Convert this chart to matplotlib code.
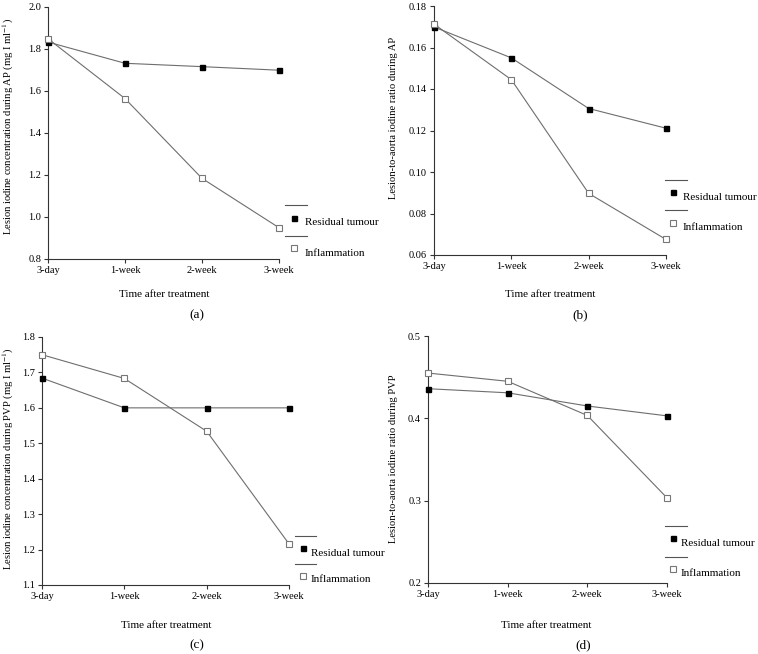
import matplotlib
matplotlib.use('Agg')
import matplotlib.pyplot as plt
from matplotlib.lines import Line2D

plt.rcParams['font.family'] = ['Liberation Serif', 'DejaVu Serif']
plt.rcParams['mathtext.fontset'] = 'stix'

# dados
tempos = ['3-day', '1-week', '2-week', '3-week']

ap_conc_tumor = [1.833, 1.732, 1.716, 1.699]
ap_conc_inflam = [1.849, 1.564, 1.184, 0.949]

ap_ratio_tumor = [0.1699, 0.1550, 0.1306, 0.1211]
ap_ratio_inflam = [0.1713, 0.1445, 0.0897, 0.0675]

pvp_conc_tumor = [1.684, 1.600, 1.600, 1.600]
pvp_conc_inflam = [1.750, 1.683, 1.534, 1.216]

pvp_ratio_tumor = [0.436, 0.431, 0.415, 0.403]
pvp_ratio_inflam = [0.455, 0.445, 0.4035, 0.3034]

W, H = 758, 654
fig = plt.figure(figsize=(W / 100, H / 100), dpi=100)


def px(x, y):
    return x / W, 1 - y / H


def eixo(l, r, t, b):
    return fig.add_axes([l / W, 1 - b / H, (r - l) / W, (b - t) / H])


# limites em pixels, series, ylim, yticks, formato, ylabel e posicoes dos textos/legenda
paineis = [
    ((48, 279, 7, 259), ap_conc_tumor, ap_conc_inflam, (0.8, 2.0),
     [0.8, 1.0, 1.2, 1.4, 1.6, 1.8, 2.0], '{:.1f}',
     r'Lesion iodine concentration during AP (mg I ml$^{-1}$)', (8, 127),
     (164, 295), '(a)', (197, 315),
     (285, 307, 205, 236, 294, 218, 248, 305, 223, 253)),
    ((434, 666, 6, 255), ap_ratio_tumor, ap_ratio_inflam, (0.06, 0.18),
     [0.06, 0.08, 0.10, 0.12, 0.14, 0.16, 0.18], '{:.2f}',
     'Lesion-to-aorta iodine ratio during AP', (393, 118),
     (550, 295), '(b)', (580, 315),
     (665, 687, 180, 210, 673, 192, 223, 683, 198, 228)),
    ((42, 289, 337, 585), pvp_conc_tumor, pvp_conc_inflam, (1.1, 1.8),
     [1.1, 1.2, 1.3, 1.4, 1.5, 1.6, 1.7, 1.8], '{:.1f}',
     r'Lesion iodine concentration during PVP (mg I ml$^{-1}$)', (8, 459),
     (166, 625), '(c)', (197, 645),
     (295, 316, 536, 564, 303, 548, 576, 311, 553, 580)),
    ((428, 667, 336, 583), pvp_ratio_tumor, pvp_ratio_inflam, (0.2, 0.5),
     [0.2, 0.3, 0.4, 0.5], '{:.1f}',
     'Lesion-to-aorta iodine ratio during PVP', (393, 459),
     (546, 625), '(d)', (583, 645),
     (665, 687, 526, 557, 673, 538, 569, 681, 544, 574)),
]

cor_linha = '#6e6e6e'

for (lim, tumor, inflam, ylim, yt, fmt, ylab, ylpos, xlpos, letra, letpos, leg) in paineis:
    ax = eixo(*lim)
    x = range(len(tempos))
    ax.plot(x, tumor, color=cor_linha, lw=0.8, marker='s', ms=3.6,
            mfc='black', mec='black', clip_on=False, zorder=3)
    ax.plot(x, inflam, color=cor_linha, lw=0.8, marker='s', ms=4.2,
            mfc='white', mec='#777777', mew=0.8, clip_on=False, zorder=3)
    ax.set_xlim(0, 3)
    ax.set_ylim(*ylim)
    ax.set_xticks(list(x))
    ax.set_xticklabels(tempos)
    ax.set_yticks(yt)
    ax.set_yticklabels([fmt.format(v) for v in yt])
    for s in ['top', 'right']:
        ax.spines[s].set_visible(False)
    for s in ['left', 'bottom']:
        ax.spines[s].set_linewidth(0.8)
        ax.spines[s].set_color('#333333')
    ax.tick_params(direction='out', length=3, width=0.8, labelsize=7.5, pad=2,
                   color='#333333')

    fig.text(*px(*ylpos), ylab, rotation=90, ha='center', va='center', fontsize=7.6)
    fig.text(*px(*xlpos), 'Time after treatment', ha='center', va='center', fontsize=8)
    fig.text(*px(*letpos), letra, ha='center', va='center', fontsize=9.5)

    # legenda desenhada a mao, como no original
    x0, x1, yl1, yl2, mx, my1, my2, tx, ty1, ty2 = leg
    for yl in (yl1, yl2):
        a, b = px(x0, yl)
        c, _ = px(x1, yl)
        fig.add_artist(Line2D([a, c], [b, b], color='#555555', lw=0.8))
    fig.add_artist(Line2D([px(mx, my1)[0]], [px(mx, my1)[1]], marker='s', ms=3.6,
                          mfc='black', mec='black', ls='none'))
    fig.add_artist(Line2D([px(mx, my2)[0]], [px(mx, my2)[1]], marker='s', ms=4.2,
                          mfc='white', mec='#777777', mew=0.8, ls='none'))
    fig.text(*px(tx, ty1), 'Residual tumour', ha='left', va='center', fontsize=8)
    fig.text(*px(tx, ty2), 'Inflammation', ha='left', va='center', fontsize=8)

fig.savefig('out.png', dpi=100)
